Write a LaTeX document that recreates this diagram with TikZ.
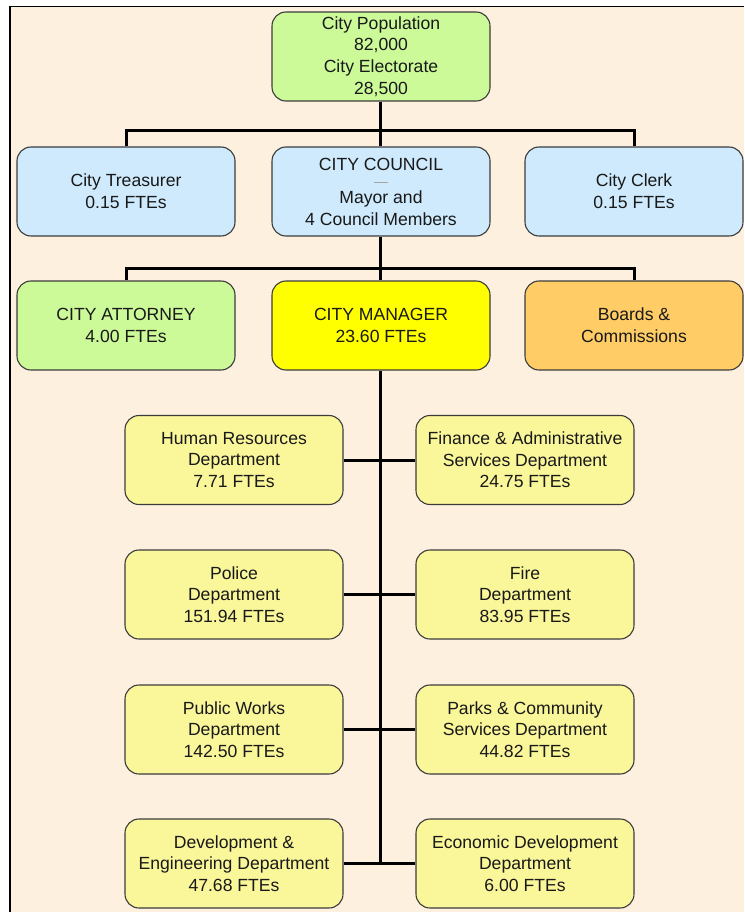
\documentclass[tikz,border=0pt]{standalone}
\usepackage{fontspec}
\setmainfont{Liberation Sans}
\definecolor{cream}{RGB}{253,240,222}
\definecolor{lgreen}{RGB}{204,250,153}
\definecolor{lblue}{RGB}{206,234,252}
\definecolor{myellow}{RGB}{255,255,0}
\definecolor{lorange}{RGB}{255,204,102}
\definecolor{lyellow}{RGB}{250,246,154}
\definecolor{boxline}{RGB}{60,60,60}
\definecolor{txt}{RGB}{25,25,25}
\tikzset{
  box/.style={draw=boxline, line width=1.1pt, rounded corners=14pt,
    minimum width=218pt, minimum height=89pt, inner sep=0pt,
    align=center, text=txt, font=\fontsize{17.6}{21.7}\selectfont},
  conn/.style={draw=black, line width=3pt, line join=miter}
}
\begin{document}
\begin{tikzpicture}[x=1pt,y=-1pt]
\useasboundingbox (0,0) rectangle (744,912);
\fill[white] (0,0) rectangle (744,912);
\fill[cream] (10,6) rectangle (744,912);
\draw[line width=1.8pt] (10.3,912) -- (10.3,6.5) -- (744,6.5);

\node[box, fill=lgreen] (top) at (381,56.5) {City Population\\82,000\\City Electorate\\28,500};

\node[box, fill=lblue] (treas) at (126,191.5) {City Treasurer\\0.15 FTEs};
\node[box, fill=lblue] (council) at (381,191.5) {CITY COUNCIL\\[-5pt]{\color{gray!70}\rule[4pt]{14pt}{0.6pt}}\\[-5pt]Mayor and\\4 Council Members};
\node[box, fill=lblue] (clerk) at (634,191.5) {City Clerk\\0.15 FTEs};

\node[box, fill=lgreen] (att) at (126,325.5) {CITY ATTORNEY\\4.00 FTEs};
\node[box, fill=myellow] (mgr) at (381,325.5) {CITY MANAGER\\23.60 FTEs};
\node[box, fill=lorange] (boards) at (634,325.5) {Boards \&\\Commissions};

\node[box, fill=lyellow] (hr) at (234,460) {Human Resources\\Department\\7.71 FTEs};
\node[box, fill=lyellow] (fin) at (525,460) {Finance \& Administrative\\Services Department\\24.75 FTEs};
\node[box, fill=lyellow] (pol) at (234,594.5) {Police\\Department\\151.94 FTEs};
\node[box, fill=lyellow] (fire) at (525,594.5) {Fire\\Department\\83.95 FTEs};
\node[box, fill=lyellow] (pw) at (234,729.5) {Public Works\\Department\\142.50 FTEs};
\node[box, fill=lyellow] (parks) at (525,729.5) {Parks \& Community\\Services Department\\44.82 FTEs};
\node[box, fill=lyellow] (dev) at (234,863.5) {Development \&\\Engineering Department\\47.68 FTEs};
\node[box, fill=lyellow] (econ) at (525,863.5) {Economic Development\\Department\\6.00 FTEs};

\coordinate (j1) at (380,131);
\coordinate (j2) at (380,268);
\coordinate (t1) at (380,460);
\coordinate (t2) at (380,594.5);
\coordinate (t3) at (380,729.5);
\coordinate (t4) at (380,863.5);

\draw[conn] (top.south -| j1) -- (council.north -| j1);
\draw[conn] (treas.north) |- (j1) -| (clerk.north);
\draw[conn] (council.south -| j2) -- (mgr.north -| j2);
\draw[conn] (att.north) |- (j2) -| (boards.north);
\draw[conn] (mgr.south -| t4) -- (t4);
\draw[conn] (hr.east) -- (t1) -- (fin.west);
\draw[conn] (pol.east) -- (t2) -- (fire.west);
\draw[conn] (pw.east) -- (t3) -- (parks.west);
\draw[conn] (dev.east) -- (t4) -- (econ.west);
\end{tikzpicture}
\end{document}
